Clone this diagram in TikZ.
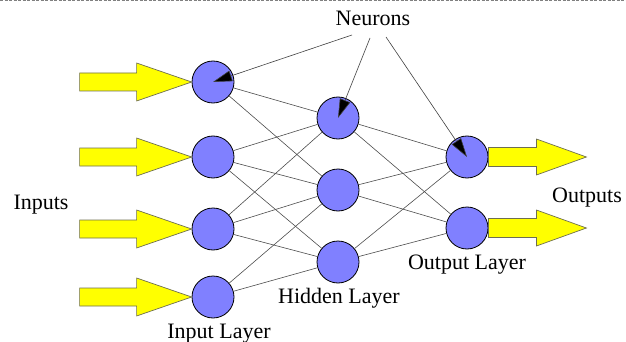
\documentclass[tikz,border=0pt]{standalone}
\usepackage{fontspec}
\setmainfont{Liberation Serif}
\usetikzlibrary{arrows.meta}
\definecolor{neuronblue}{HTML}{8080FF}
\definecolor{arrowyellow}{HTML}{FFFF00}
\definecolor{arrowedge}{HTML}{6E6E50}
\begin{document}
\begin{tikzpicture}[x=1pt,y=-1pt,
  neuron/.style={circle,draw=black,line width=0.8pt,fill=neuronblue,minimum size=42pt,inner sep=0pt},
  link/.style={draw=black!70,line width=0.6pt},
  ptr/.style={draw=black!75,line width=0.6pt,-{Triangle[length=19pt,width=11pt,fill=black]}},
  yarrow/.style={fill=arrowyellow,draw=arrowedge,line width=0.7pt,line join=miter},
  lbl/.style={font=\fontsize{22}{26}\selectfont,inner sep=0pt,anchor=base}]
\useasboundingbox (0,0) rectangle (626,342);
\draw[gray,line width=1pt,dash pattern=on 3pt off 1.5pt] (0,0.8) -- (626,0.8);

% input layer
\node[neuron] (i1) at (213,82) {};
\node[neuron] (i2) at (213,157) {};
\node[neuron] (i3) at (213,229) {};
\node[neuron] (i4) at (213,297) {};
% hidden layer
\node[neuron] (h1) at (338,118) {};
\node[neuron] (h2) at (338,190) {};
\node[neuron] (h3) at (338,262) {};
% output layer
\node[neuron] (o1) at (467,157) {};
\node[neuron] (o2) at (467,228) {};

% connections input -> hidden
\foreach \a/\b in {i1/h1,i1/h2,i2/h1,i2/h2,i2/h3,i3/h1,i3/h2,i3/h3,i4/h2,i4/h3}{
  \draw[link] (\a) -- (\b);
}
% connections hidden -> output
\foreach \h in {1,2,3}{
  \foreach \o in {1,2}{
    \draw[link] (h\h) -- (o\o);
  }
}

% input arrows
\foreach \i in {1,2,3,4}{
  \begin{scope}[shift={(i\i.west)}]
    \draw[yarrow] (-112,-9) -- (-55,-9) -- (-55,-19) -- (0,0) -- (-55,19) -- (-55,9) -- (-112,9) -- cycle;
  \end{scope}
}
% output arrows
\foreach \o in {1,2}{
  \begin{scope}[shift={(o\o.east)}]
    \draw[yarrow] (0,-9.5) -- (48,-9.5) -- (48,-18) -- (98,0) -- (48,18) -- (48,9.5) -- (0,9.5) -- cycle;
  \end{scope}
}

% labels
\node[lbl] (neurons) at (373,26) {Neurons};
\node[lbl] (inputs) at (41,209) {Inputs};
\node[lbl] (inlayer) at (219,338) {Input Layer};
\node[lbl] (hidlayer) at (339,303) {Hidden Layer};
\node[lbl] (outlayer) at (467,269) {Output Layer};
\node[lbl] (outputs) at (587,202) {Outputs};

% neuron pointers
\coordinate (p1) at (352,35);
\coordinate (p2) at (370,38);
\coordinate (p3) at (386,37);
\draw[ptr] (p1) -- (i1.center);
\draw[ptr] (p2) -- (h1.center);
\draw[ptr] (p3) -- (o1.center);
\end{tikzpicture}
\end{document}
